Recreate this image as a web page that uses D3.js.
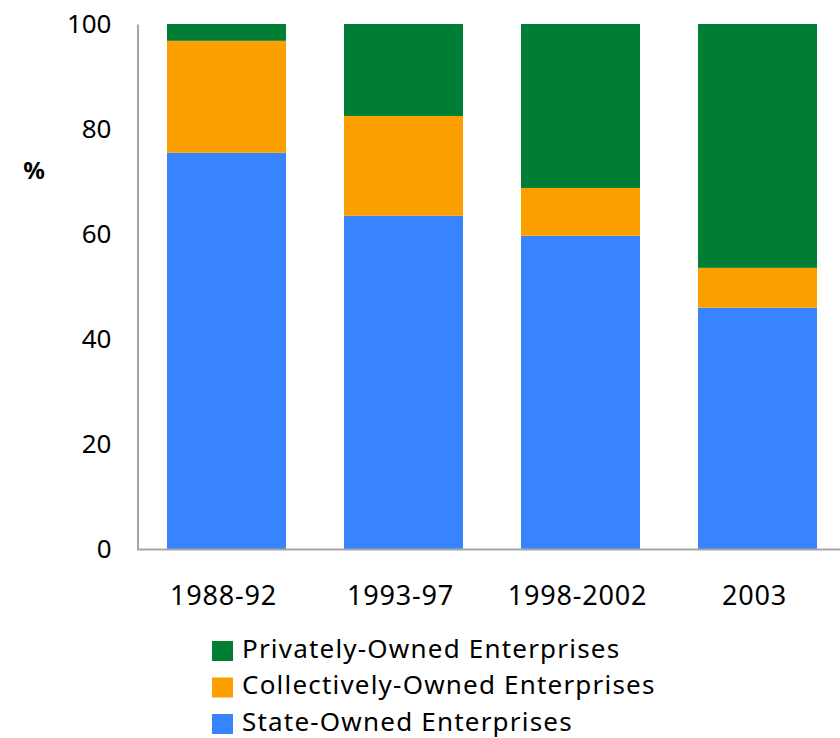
<!DOCTYPE html>
<html>
<head>
<meta charset="utf-8">
<script src="https://cdn.jsdelivr.net/npm/d3@7"></script>
<style>
  body { margin: 0; background: #fff; }
  text { font-family: "Noto Sans", "Open Sans", sans-serif; fill: #000; }
</style>
</head>
<body>
<div id="chart"></div>
<script>
// data (% of total)
var periods = ["1988-92", "1993-97", "1998-2002", "2003"];
var stateOwned = [75.5, 63.5, 59.7, 46.0];
var collectivelyOwned = [21.3, 19.0, 9.1, 7.6];
var privatelyOwned = [3.2, 17.5, 31.2, 46.4];
var yTicks = [0, 20, 40, 60, 80, 100];

var seriesNames = ["State-Owned Enterprises", "Collectively-Owned Enterprises", "Privately-Owned Enterprises"];
var seriesKeys = ["state", "collective", "private"];
var colors = { state: "#3884ff", collective: "#fca000", "private": "#007e36" };

var width = 840, height = 738;

var rows = periods.map(function(p, i) {
    return { period: p, state: stateOwned[i], collective: collectivelyOwned[i], "private": privatelyOwned[i] };
});

var x = d3.scaleBand()
    .domain(periods)
    .range([137, 847])
    .paddingInner(58 / 177)
    .paddingOuter(30 / 177);

var y = d3.scaleLinear().domain([0, 100]).range([549.5, 24]);

var svg = d3.select("#chart")
    .append("svg")
    .attr("width", width)
    .attr("height", height);

var stacked = d3.stack().keys(seriesKeys)(rows);

svg.selectAll(".layer")
    .data(stacked)
    .enter()
    .append("g")
    .attr("class", "layer")
    .attr("fill", function(d) { return colors[d.key]; })
    .selectAll("rect")
    .data(function(d) { return d; })
    .enter()
    .append("rect")
    .attr("x", function(d) { return x(d.data.period); })
    .attr("y", function(d) { return y(Math.min(d[1], 100)); })
    .attr("width", x.bandwidth())
    .attr("height", function(d) { return y(d[0]) - y(Math.min(d[1], 100)); });

// y axis: only the line and labels
var yAxis = svg.append("g")
    .attr("transform", "translate(137.5,0)")
    .call(d3.axisLeft(y).tickValues(yTicks).tickSize(0).tickPadding(26));
yAxis.select(".domain").attr("stroke", "#a6a6a6").attr("stroke-width", 2);
yAxis.selectAll(".tick text")
    .style("font-size", "26px")
    .style("font-family", "'Noto Sans', sans-serif");

// baseline running to the right edge
svg.append("line")
    .attr("x1", 137)
    .attr("x2", width)
    .attr("y1", y(0))
    .attr("y2", y(0))
    .attr("stroke", "#a6a6a6")
    .attr("stroke-width", 2);

// x labels
svg.selectAll(".xlabel")
    .data(periods)
    .enter()
    .append("text")
    .attr("class", "xlabel")
    .attr("x", function(d) { return x(d) + x.bandwidth() / 2 - 3; })
    .attr("y", 605)
    .attr("text-anchor", "middle")
    .style("font-size", "27px")
    .style("letter-spacing", "0.8px")
    .text(function(d) { return d; });

// unit label
svg.append("text")
    .attr("x", 34)
    .attr("y", 179)
    .attr("text-anchor", "middle")
    .style("font-size", "24px")
    .style("font-weight", "bold")
    .text("%");

// legend, private on top
var legendKeys = seriesKeys.slice().reverse();
var legendNames = seriesNames.slice().reverse();
var legend = svg.selectAll(".legend")
    .data(legendKeys)
    .enter()
    .append("g")
    .attr("class", "legend")
    .attr("transform", function(d, i) { return "translate(212," + (641 + i * 36.5) + ")"; });

legend.append("rect")
    .attr("width", 21)
    .attr("height", 20)
    .attr("fill", function(d) { return colors[d]; });

legend.append("text")
    .attr("x", 30)
    .attr("y", 16.5)
    .style("font-size", "26px")
    .style("letter-spacing", "1.2px")
    .text(function(d, i) { return legendNames[i]; });
</script>
</body>
</html>
